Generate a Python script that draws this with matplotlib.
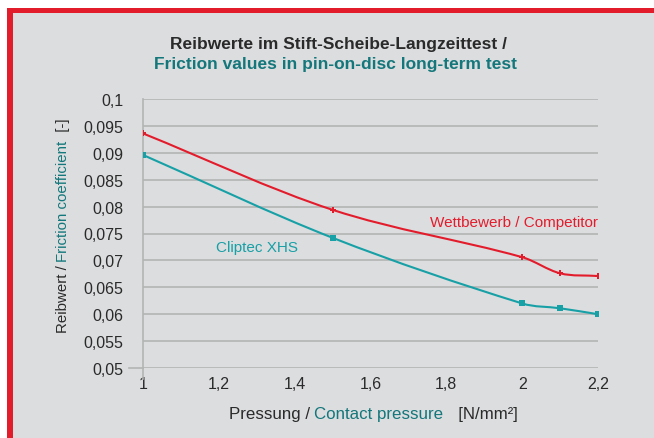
import matplotlib
matplotlib.use("Agg")
import matplotlib.pyplot as plt
from matplotlib.path import Path
from matplotlib.patches import PathPatch, Rectangle

# data
pressure = [1.0, 1.5, 2.0, 2.1, 2.2]
competitor = [0.0936, 0.0794, 0.0706, 0.0676, 0.0671]
cliptec = [0.0896, 0.0742, 0.0620, 0.0611, 0.0600]
x_ticks = [1.0, 1.2, 1.4, 1.6, 1.8, 2.0, 2.2]
y_ticks = [0.05, 0.055, 0.06, 0.065, 0.07, 0.075, 0.08, 0.085, 0.09, 0.095, 0.1]

RED = "#e31c2c"
TEAL = "#17a0a6"
TEAL_DARK = "#13777b"
DARK = "#2a2a2a"
BG = "#dcdddf"
GRID = "#b3b3b3"

plt.rcParams["font.family"] = ["Liberation Sans", "DejaVu Sans"]


def fmt(v):
    s = f"{v:.3f}".rstrip("0").rstrip(".")
    return s.replace(".", ",")


def smooth_path(xs, ys):
    """Bezier path through the points (Hermite tangents in x), a smoothed line."""
    n = len(xs)
    slopes = []
    for i in range(n):
        a, b = max(i - 1, 0), min(i + 1, n - 1)
        slopes.append((ys[b] - ys[a]) / (xs[b] - xs[a]))
    verts = [(xs[0], ys[0])]
    codes = [Path.MOVETO]
    for i in range(n - 1):
        h = (xs[i + 1] - xs[i]) / 3
        verts += [(xs[i] + h, ys[i] + slopes[i] * h),
                  (xs[i + 1] - h, ys[i + 1] - slopes[i + 1] * h),
                  (xs[i + 1], ys[i + 1])]
        codes += [Path.CURVE4] * 3
    return Path(verts, codes)


W, H = 654, 439
fig = plt.figure(figsize=(W / 100, H / 100), dpi=100)
fig.patch.set_facecolor(BG)

# white margin and red frame (top/left only, the rest is cropped)
fig.patches.append(Rectangle((0, 1 - 9 / H), 1, 9 / H, transform=fig.transFigure,
                             facecolor="white", edgecolor="none", zorder=0))
fig.patches.append(Rectangle((0, 0), 7 / W, 1, transform=fig.transFigure,
                             facecolor="white", edgecolor="none", zorder=0))
fig.patches.append(Rectangle((7 / W, 1 - 14 / H), 1, 5 / H, transform=fig.transFigure,
                             facecolor=RED, edgecolor="none", zorder=1))
fig.patches.append(Rectangle((7 / W, 0), 6 / W, 1 - 9 / H, transform=fig.transFigure,
                             facecolor=RED, edgecolor="none", zorder=1))

ax = fig.add_axes([143 / W, 1 - 369 / H, 455 / W, 269 / H])
ax.set_facecolor(BG)
ax.set_xlim(1.0, 2.2)
ax.set_ylim(0.05, 0.1)
ax.set_xticks(x_ticks)
ax.set_xticklabels([fmt(v) for v in x_ticks])
ax.set_yticks(y_ticks)
ax.set_yticklabels([fmt(v) for v in y_ticks])
ax.tick_params(length=0, labelsize=11.5, colors=DARK, pad=6)
ax.tick_params(axis="y", pad=14)
ax.grid(axis="y", color=GRID, linewidth=1.2)
for side in ["top", "right", "bottom"]:
    ax.spines[side].set_visible(False)
ax.spines["left"].set_color(GRID)
ax.spines["left"].set_linewidth(1.2)
# small corner ticks like the original
ax.plot([-0.03, 0], [0, 0], transform=ax.transAxes, color=GRID, lw=1.2, clip_on=False)
ax.plot([0, 0], [0, -0.04], transform=ax.transAxes, color=GRID, lw=1.2, clip_on=False)

for ys, color, marker, ms in [(competitor, RED, "P", 5), (cliptec, TEAL, "s", 4.5)]:
    ax.add_patch(PathPatch(smooth_path(pressure, ys), facecolor="none",
                           edgecolor=color, lw=1.5, zorder=3))
    ax.plot(pressure, ys, linestyle="none", marker=marker, markersize=ms,
            color=color, markeredgewidth=0, zorder=4)

ax.text(2.2, 0.0771, "Wettbewerb / Competitor", color=RED, fontsize=11,
        ha="right", va="center")
ax.text(1.193, 0.0724, "Cliptec XHS", color=TEAL, fontsize=11,
        ha="left", va="center")

# title
fig.text(338 / W, 1 - 44 / H, "Reibwerte im Stift-Scheibe-Langzeittest /",
         ha="center", va="center", fontsize=12.5, fontweight="bold", color=DARK)
fig.text(335 / W, 1 - 64 / H, "Friction values in pin-on-disc long-term test",
         ha="center", va="center", fontsize=12.5, fontweight="bold", color=TEAL_DARK)

# multi-coloured axis labels
renderer = fig.canvas.get_renderer()


def colored_label(parts, x0, y0, rotation, size):
    texts = [fig.text(0, 0, s, color=c, fontsize=size, rotation=rotation,
                      ha="left", va="center", rotation_mode="anchor")
             for s, c in parts]
    sizes = [t.get_window_extent(renderer) for t in texts]
    if rotation == 0:
        total = sum(b.width for b in sizes)
        pos = x0 - total / 2
        for t, b in zip(texts, sizes):
            t.set_position((pos / W, y0 / H))
            pos += b.width
    else:
        total = sum(b.height for b in sizes)
        pos = y0 - total / 2
        for t, b in zip(texts, sizes):
            t.set_position((x0 / W, pos / H))
            pos += b.height


colored_label([("Pressung / ", DARK), ("Contact pressure", TEAL_DARK),
               ("   [N/mm²]", DARK)], 373, H - 415, 0, 12.2)
colored_label([("Reibwert / ", DARK), ("Friction coefficient", TEAL_DARK),
               ("  [-]", DARK)], 63, H - 226, 90, 10.8)

fig.savefig("out.png", dpi=100, facecolor=fig.get_facecolor())
